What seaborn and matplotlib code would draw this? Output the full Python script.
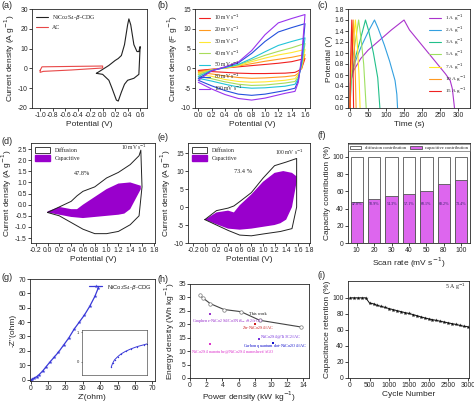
import numpy as np
import pandas as pd
import seaborn as sns
import matplotlib.pyplot as plt
from matplotlib.patches import Patch

# ---------------- data ----------------
# (a) CV comparison
a_cdg_v = [-0.1, 0.0, 0.1, 0.2, 0.25, 0.3, 0.35, 0.4, 0.42, 0.45, 0.5, 0.55, 0.58, 0.6,
           0.6, 0.58, 0.5, 0.4, 0.35, 0.3, 0.25, 0.22, 0.15, 0.1, 0.0, -0.1]
a_cdg_i = [-2.5, -0.5, 1.5, 4.0, 5.0, 6.5, 12.0, 22.0, 25.0, 22.0, 12.0, 8.5, 8.5, 11.0,
           11.0, -3.0, -5.0, -6.0, -8.0, -12.0, -16.5, -16.0, -10.0, -6.0, -3.0, -2.5]
a_ac_v = [-1.0, -0.97, -0.5, 0.0, 0.0, -0.5, -0.95, -1.0, -1.0]
a_ac_i = [-1.0, 0.8, 1.0, 1.2, 0.2, -0.8, -1.5, -2.0, -1.0]

# (b) CV at different scan rates
b_rates = ['10', '20', '30', '40', '50', '80', '100']
b_v_up = [0.0, 0.2, 0.4, 0.6, 0.8, 1.0, 1.2, 1.4, 1.6]
b_v_down = [1.55, 1.5, 1.45, 1.3, 1.0, 0.8, 0.6, 0.4, 0.2, 0.0]
b_up = {
    '10': [-0.5, -0.2, 0.1, 0.4, 0.7, 1.0, 1.3, 1.7, 2.5],
    '20': [-0.8, -0.3, 0.1, 0.6, 1.2, 1.8, 2.3, 2.8, 3.5],
    '30': [-1.2, -0.4, 0.1, 0.7, 1.7, 2.6, 3.4, 4.0, 4.8],
    '40': [-1.5, -0.4, 0.2, 0.9, 2.1, 3.3, 4.3, 5.2, 6.3],
    '50': [-2.0, -0.5, 0.2, 1.0, 2.5, 4.2, 5.8, 6.8, 7.7],
    '80': [-2.5, -0.6, 0.3, 1.4, 3.8, 6.8, 9.2, 10.3, 11.3],
    '100': [-3.0, -0.6, 0.4, 1.6, 4.5, 8.5, 11.5, 12.6, 13.6],
}
b_down = {
    '10': [0.0, -0.6, -1.0, -1.2, -1.3, -1.3, -1.2, -1.0, -0.8, -0.6],
    '20': [0.0, -1.2, -1.8, -2.1, -2.4, -2.5, -2.3, -1.9, -1.4, -1.0],
    '30': [0.5, -1.5, -2.6, -3.0, -3.4, -3.5, -3.3, -2.8, -2.0, -1.5],
    '40': [0.8, -2.0, -3.3, -3.7, -4.2, -4.3, -4.0, -3.4, -2.6, -2.0],
    '50': [1.0, -2.5, -4.0, -4.5, -4.9, -5.0, -4.7, -4.0, -3.2, -2.5],
    '80': [2.0, -3.0, -5.0, -5.6, -6.5, -6.8, -6.5, -5.6, -4.4, -3.0],
    '100': [3.0, -3.5, -5.8, -6.3, -7.5, -8.0, -7.6, -6.6, -5.2, -3.5],
}
b_colors = ['#f02020', '#ff9a1f', '#ffe833', '#a8dc5a', '#22c4d8', '#2450dd', '#9a33ee']

# (c) GCD curves
c_labels = ['1', '2', '3', '5', '7', '10', '15']
c_t = {
    '1': [0, 1, 10, 30, 50, 80, 115, 150, 165, 190, 215, 240, 265, 278, 284, 290],
    '2': [0, 0.5, 5, 15, 30, 50, 68, 78, 95, 110, 125, 130, 132],
    '3': [0, 4, 12, 25, 43, 52, 65, 77, 83],
    '5': [0, 3, 10, 24, 30, 38, 45],
    '7': [0, 2, 7, 15, 20, 25, 28],
    '10': [0, 1.5, 5, 9, 12, 15, 17],
    '15': [0, 1, 3, 5, 7, 9, 10],
}
c_v = {
    '1': [0, 0.45, 0.68, 0.9, 1.05, 1.22, 1.42, 1.6, 1.42, 1.22, 1.02, 0.82, 0.62, 0.5, 0.35, 0],
    '2': [0, 0.35, 0.6, 0.85, 1.1, 1.38, 1.6, 1.45, 1.15, 0.85, 0.5, 0.25, 0],
    '3': [0, 0.55, 0.85, 1.15, 1.6, 1.4, 1.0, 0.55, 0],
    '5': [0, 0.6, 1.0, 1.6, 1.3, 0.8, 0],
    '7': [0, 0.6, 1.05, 1.6, 1.2, 0.6, 0],
    '10': [0, 0.65, 1.1, 1.6, 1.15, 0.55, 0],
    '15': [0, 0.7, 1.15, 1.6, 1.1, 0.5, 0],
}
c_colors = ['#aa33cc', '#33a0e0', '#22c08a', '#9ee060', '#ffe822', '#ff9a22', '#ee2222']

# (d) 10 mV/s capacitive separation
d_tot_v = [0.0, 0.2, 0.4, 0.5, 0.6, 0.8, 1.0, 1.2, 1.4, 1.55, 1.58,
           1.6, 1.55, 1.4, 1.2, 1.0, 0.8, 0.6, 0.4, 0.2, 0.0]
d_tot_i = [-0.35, -0.1, 0.15, 0.4, 0.6, 0.8, 1.2, 1.45, 1.8, 2.2, 2.45,
           0.8, -0.5, -0.9, -1.2, -1.3, -1.3, -1.1, -0.8, -0.5, -0.35]
d_cap_v = [0.0, 0.2, 0.4, 0.5, 0.6, 0.8, 1.0, 1.2, 1.4, 1.58,
           1.58, 1.4, 1.3, 1.2, 1.0, 0.8, 0.6, 0.4, 0.2, 0.0]
d_cap_i = [-0.3, -0.1, -0.2, -0.2, 0.0, 0.35, 0.7, 0.95, 1.0, 0.85,
           0.7, -0.2, -0.4, -0.45, -0.5, -0.55, -0.6, -0.55, -0.45, -0.35]

# (e) 100 mV/s capacitive separation
e_tot_v = [0.0, 0.2, 0.4, 0.5, 0.6, 0.8, 1.0, 1.2, 1.4, 1.58,
           1.58, 1.5, 1.3, 1.0, 0.8, 0.6, 0.4, 0.2, 0.0]
e_tot_i = [-3.5, -1.0, -0.3, 0.3, 1.5, 4.0, 8.0, 11.5, 12.5, 13.5,
           0.0, -6.0, -6.8, -7.5, -8.0, -7.8, -6.5, -5.0, -3.5]
e_cap_v = [0.0, 0.2, 0.4, 0.5, 0.6, 0.8, 1.0, 1.2, 1.35, 1.5, 1.58,
           1.58, 1.5, 1.4, 1.3, 1.2, 1.0, 0.8, 0.6, 0.4, 0.2, 0.0]
e_cap_i = [-3.5, -1.5, -1.0, -1.5, 0.5, 3.5, 7.0, 9.5, 10.0, 9.5, 8.5,
           7.0, 0.0, -3.5, -4.5, -5.0, -5.5, -6.0, -6.3, -6.0, -4.8, -3.5]

# (f) contribution bars
f_rates = ['10', '20', '30', '40', '50', '80', '100']
f_cap = [47.8, 50.9, 54.3, 57.1, 60.1, 68.2, 73.4]
f_total = [100, 100, 100, 100, 100, 100, 100]

# (g) Nyquist
g_zre = [0.5, 1, 2, 3.5, 5, 7, 9, 11, 13.5, 16, 19, 22, 25, 28, 31, 34, 37, 39]
g_zim = [0, 0.3, 1, 2, 3.5, 6, 9, 12, 15.5, 19, 24, 29, 35, 40, 45, 51, 58, 64]
g_ins_x = [0.45, 0.47, 0.5, 0.55, 0.6, 0.67, 0.75, 0.85, 0.95, 1.0]
g_ins_y = [-0.17, -0.05, 0.07, 0.18, 0.27, 0.36, 0.44, 0.52, 0.58, 0.61]

# (h) Ragone
h_p = [1.2, 1.6, 2.5, 4.2, 6.3, 8.6, 13.7]
h_e = [30.8, 29.8, 27.7, 25.5, 24.7, 21.5, 19.0]
h_ref_p = [2.5, 8.0, 8.5, 10.2, 2.5]
h_ref_e = [24.0, 20.2, 14.7, 13.2, 12.7]
h_ref_colors = ['#9933cc', '#cc2222', '#7733dd', '#1111cc', '#dd33cc']
h_ref_labels = [r'Graphene-NiCo$_2$S$_4$/Co$_3$Ni$_{6-x}$S$_2$//rGO',
                r'Zn-NiCo$_2$S$_4$//AC',
                r'NiCo$_2$S$_4$@Ti$_3$C$_2$//AC',
                r'Carbon quantum dot-NiCo$_2$O$_4$//AC',
                r'NiCo$_2$S$_4$ nanotube@NiCo$_2$S$_4$ nanosheet//rGO']
h_lab_xy = [(0.2, 21.3), (6.4, 18.4), (8.7, 15.1), (6.5, 12.0), (0.1, 9.5)]

# (i) cycling
i_cycle = [0, 100, 200, 300, 400, 500, 600, 700, 800, 900, 1000, 1100, 1200, 1300, 1400,
           1500, 1600, 1700, 1800, 1900, 2000, 2100, 2200, 2300, 2400, 2500, 2600, 2700,
           2800, 2900, 3000]
i_ret = [100, 100, 100, 100, 100, 93.5, 92.5, 90.5, 89.2, 88, 86.5, 85.3, 84, 82.8, 81.6,
         80.5, 79.2, 77.8, 76.3, 75, 73.8, 72.8, 71.8, 70.8, 69.8, 68.8, 67.8, 66.8,
         65.6, 64.5, 64]

# ---------------- style ----------------
sns.set_style('ticks')
plt.rcParams['font.family'] = ['Liberation Sans', 'DejaVu Sans']
plt.rcParams['axes.linewidth'] = 0.6
plt.rcParams['axes.unicode_minus'] = False
SERIF = ['Liberation Serif', 'DejaVu Serif']
TS, LS = 4.9, 6

W, H = 474, 403
fig = plt.figure(figsize=(W / 100, H / 100), dpi=100)


def box(l, t, r, b):
    return [l / W, 1 - b / H, (r - l) / W, (b - t) / H]


def style(ax, xlabel, ylabel):
    ax.tick_params(labelsize=TS, length=2, width=0.6, pad=1)
    ax.set_xlabel(xlabel, fontsize=LS, labelpad=1)
    ax.set_ylabel(ylabel, fontsize=LS, labelpad=1)


def loop(ax, x, y, **kw):
    sns.lineplot(x=x, y=y, sort=False, estimator=None, ax=ax, **kw)


# (a)
ax = fig.add_axes(box(32, 9, 147, 108))
loop(ax, a_cdg_v, a_cdg_i, color='#222222', lw=0.8, label=r'NiCo$_2$S$_4$-$\beta$-CDG')
loop(ax, a_ac_v, a_ac_i, color='#e84848', lw=0.8, label='AC')
ax.set_xlim(-1.13, 0.71)
ax.set_ylim(-20, 30)
ax.set_xticks([-1.0, -0.8, -0.6, -0.4, -0.2, 0.0, 0.2, 0.4, 0.6])
ax.set_yticks([-20, -10, 0, 10, 20, 30])
ax.legend(loc='upper left', frameon=False, prop={'family': SERIF, 'size': 4.2},
          handlelength=2.0, borderaxespad=0.3)
style(ax, 'Potential (V)', r'Current density (A g$^{-1}$)')

# (b)
ax = fig.add_axes(box(195, 9, 310, 108))
for r, col in zip(b_rates, b_colors):
    loop(ax, b_v_up + b_v_down, b_up[r] + b_down[r], color=col, lw=0.8,
         label=r + r' mV s$^{-1}$')
ax.set_xlim(-0.05, 1.675)
ax.set_ylim(-10, 15)
ax.set_xticks([0.0, 0.2, 0.4, 0.6, 0.8, 1.0, 1.2, 1.4, 1.6])
ax.legend(loc='upper left', frameon=False, prop={'family': SERIF, 'size': 4.0},
          handlelength=2.0, borderaxespad=0.3, labelspacing=0.45)
style(ax, 'Potential (V)', r'Current density (F g$^{-1}$)')

# (c)
ax = fig.add_axes(box(348, 9, 470, 108))
for k, col in zip(c_labels, c_colors):
    loop(ax, c_t[k], c_v[k], color=col, lw=0.8, label=k + r' A g$^{-1}$')
ax.set_xlim(-5.5, 333)
ax.set_ylim(0, 1.8)
ax.set_xticks([0, 50, 100, 150, 200, 250, 300])
ax.set_yticks([0.0, 0.2, 0.4, 0.6, 0.8, 1.0, 1.2, 1.4, 1.6, 1.8])
ax.legend(loc='upper right', frameon=False, prop={'family': SERIF, 'size': 3.8},
          handlelength=2.2, borderaxespad=0.3, labelspacing=0.35)
style(ax, 'Time (s)', 'Potential (V)')

# (d) and (e)
cap_col = '#9900cc'
for bx, tv, ti, cv, ci, xl, yl, yt, pct, rate, ptxt, rtxt in [
        ((31, 143, 155, 243), d_tot_v, d_tot_i, d_cap_v, d_cap_i, (-0.28, 1.82), (-1.72, 2.77),
         [-1.5, -1.0, -0.5, 0.0, 0.5, 1.0, 1.5, 2.0, 2.5], '47.8%', r'10 mV s$^{-1}$',
         (0.45, 1.35), (1.25, 2.45)),
        ((188, 143, 310, 243), e_tot_v, e_tot_i, e_cap_v, e_cap_i, (-0.29, 1.81), (-10, 17.8),
         [-10, -5, 0, 5, 10, 15], '73.4 %', r'100 mV s$^{-1}$',
         (0.5, 9.5), (1.2, 14.5))]:
    ax = fig.add_axes(box(*bx))
    ax.fill(cv, ci, color=cap_col, lw=0)
    loop(ax, tv + tv[:1], ti + ti[:1], color='#222222', lw=0.7)
    ax.set_xlim(*xl)
    ax.set_ylim(*yl)
    ax.set_yticks(yt)
    ax.set_xticks([-0.2, 0.0, 0.2, 0.4, 0.6, 0.8, 1.0, 1.2, 1.4, 1.6, 1.8])
    ax.text(ptxt[0], ptxt[1], pct, fontsize=4.5, family=SERIF)
    ax.text(rtxt[0], rtxt[1], rate, fontsize=4.0, family=SERIF)
    handles = [Patch(facecolor='white', edgecolor='#222222', lw=0.6, label='Diffusion'),
               Patch(facecolor=cap_col, edgecolor=cap_col, label='Capacitive')]
    ax.legend(handles=handles, loc='upper left', frameon=False,
              prop={'family': SERIF, 'size': 4.2}, handlelength=2.6, handleheight=1.2,
              borderaxespad=0.3, labelspacing=0.3)
    style(ax, 'Potential (V)', r'Current density (A g$^{-1}$)')

# (f)
ax = fig.add_axes(box(348, 143, 470, 243))
df_f = pd.DataFrame({'rate': f_rates, 'total': f_total, 'cap': f_cap})
sns.barplot(data=df_f, x='rate', y='total', color='white', edgecolor='#555555',
            linewidth=0.6, width=0.7, ax=ax, label='diffusion contribution')
sns.barplot(data=df_f, x='rate', y='cap', color='#dd66ee', edgecolor='#555555',
            linewidth=0.6, width=0.7, ax=ax, saturation=1, label='capacitive contribution')
for k, v in enumerate(f_cap):
    ax.text(k, 45.5, f'{v}%', ha='center', va='center', fontsize=3.0, family=SERIF,
            color='#332266')
ax.set_ylim(0, 116)
ax.set_yticks([0, 20, 40, 60, 80, 100])
ax.legend(loc='upper center', ncol=2, prop={'family': SERIF, 'size': 3.3},
          frameon=True, fancybox=False, edgecolor='#444444', borderaxespad=0.3,
          handlelength=2.5, columnspacing=1.0, borderpad=0.3)
ax.get_legend().get_frame().set_linewidth(0.5)
style(ax, r'Scan rate (mV s$^{-1}$)', 'Capacity contribution (%)')

# (g)
ax = fig.add_axes(box(30, 279, 155, 381))
sns.lineplot(x=g_zre, y=g_zim, sort=False, estimator=None, ax=ax, color='#3a3ad8', lw=0.9,
             marker='*', markersize=3, markeredgewidth=0, label=r'NiCo$_2$S$_4$-$\beta$-CDG')
ax.set_xlim(-0.3, 71.5)
ax.set_ylim(-1, 70)
ax.set_xticks([0, 10, 20, 30, 40, 50, 60, 70])
ax.set_yticks([0, 10, 20, 30, 40, 50, 60, 70])
ax.legend(loc='upper right', frameon=False, prop={'size': 4.2}, handlelength=2.2,
          borderaxespad=0.2)
style(ax, "Z'(ohm)", "-Z''(ohm)")
axi = fig.add_axes(box(82, 330, 147, 375))
sns.lineplot(x=g_ins_x, y=g_ins_y, sort=False, estimator=None, ax=axi, color='#3a3ad8',
             lw=0.7, marker='.', markersize=2, markeredgewidth=0)
axi.set_xlim(0, 1.0)
axi.set_ylim(-0.44, 1.08)
axi.set_xticks([])
axi.set_yticks([0, 1])
axi.tick_params(labelsize=3, length=1, width=0.4, pad=1)
for s in axi.spines.values():
    s.set_linewidth(0.4)

# (h)
ax = fig.add_axes(box(190, 284, 309, 378))
sns.lineplot(x=h_p, y=h_e, sort=False, estimator=None, ax=ax, color='#444444', lw=0.8,
             marker='o', markersize=2.5, markerfacecolor='white', markeredgecolor='#777777',
             markeredgewidth=0.5)
for p, e, col, lab, (tx, ty) in zip(h_ref_p, h_ref_e, h_ref_colors, h_ref_labels, h_lab_xy):
    ax.scatter([p], [e], s=3, color=col, marker='s', lw=0)
    ax.text(tx, ty, lab, fontsize=3.2, family=SERIF, color=col, va='center')
ax.text(7.3, 23.5, 'This work', fontsize=3.2, family=SERIF, color='#111111')
ax.set_xlim(0, 14.7)
ax.set_ylim(0, 35)
ax.set_xticks([0, 2, 4, 6, 8, 10, 12, 14])
ax.set_yticks([0, 5, 10, 15, 20, 25, 30, 35])
style(ax, r'Power density (kW kg$^{-1}$)', r'Energy density (Wh kg$^{-1}$)')
ax.xaxis.labelpad = 0.5

# (i)
ax = fig.add_axes(box(348, 281, 469, 378))
sns.lineplot(x=i_cycle, y=i_ret, sort=False, estimator=None, ax=ax, color='#111111',
             lw=0.7, marker='*', markersize=3, markeredgewidth=0)
ax.set_xlim(-50, 3030)
ax.set_ylim(0, 121)
ax.set_xticks([0, 500, 1000, 1500, 2000, 2500, 3000])
ax.set_yticks([0, 20, 40, 60, 80, 100])
ax.text(2950, 114, r'5 A g$^{-1}$', fontsize=4.2, family=SERIF, ha='right', va='center')
style(ax, 'Cycle Number', 'Capacitance retention (%)')

# panel letters
for lab, x, y in [('(a)', 1, 5), ('(b)', 158, 5), ('(c)', 318, 5),
                  ('(d)', 1, 141), ('(e)', 158, 138), ('(f)', 318, 135),
                  ('(g)', 1, 278), ('(h)', 158, 279), ('(i)', 318, 276)]:
    fig.text(x / W, 1 - y / H, lab, fontsize=6.5, va='center', ha='left')

fig.savefig('out.png', dpi=100)
